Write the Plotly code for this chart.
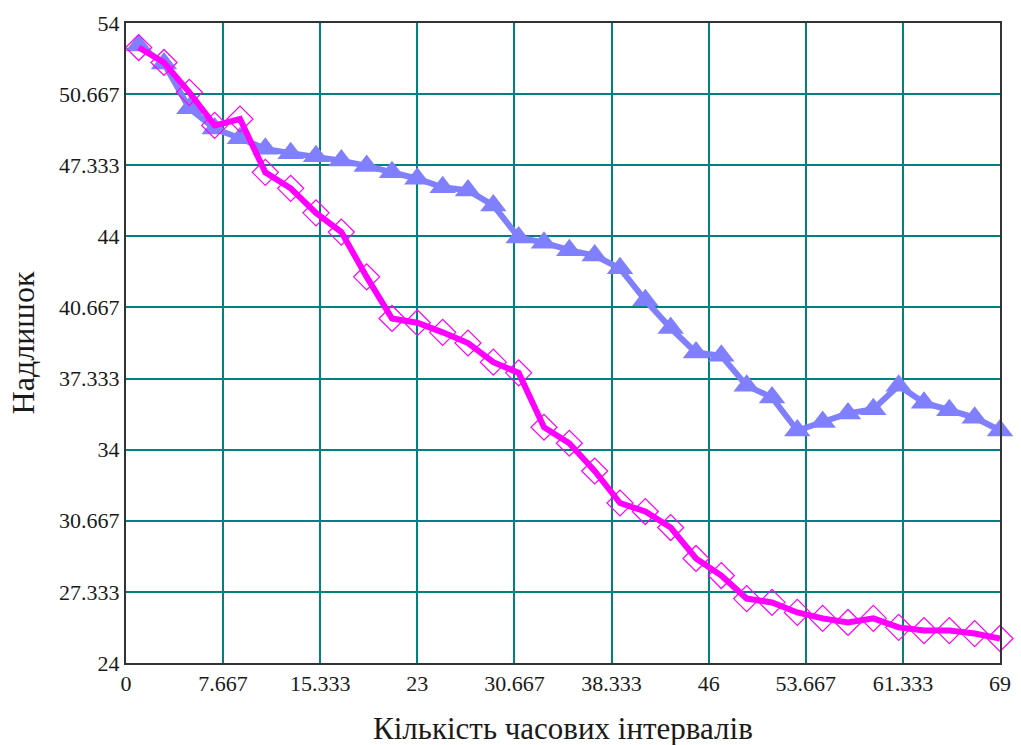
import plotly.graph_objects as go

x_vals = list(range(1, 70, 2))
blue_vals = [52.95, 52.1, 50.0, 49.05, 48.6, 48.1, 47.9, 47.75, 47.55, 47.3,
             47.0, 46.7, 46.3, 46.15, 45.45, 43.95, 43.7, 43.35, 43.1, 42.5,
             41.0, 39.7, 38.55, 38.4, 37.0, 36.45, 34.9, 35.3, 35.7, 35.9,
             37.0, 36.2, 35.85, 35.5, 34.9]
magenta_vals = [52.85, 52.15, 50.75, 49.2, 49.5, 47.0, 46.25, 45.1, 44.2, 42.1,
                40.15, 39.95, 39.5, 39.0, 38.1, 37.6, 35.05, 34.3, 33.0, 31.5,
                31.1, 30.35, 28.9, 28.1, 27.02, 26.84, 26.37, 26.09, 25.9, 26.09,
                25.67, 25.52, 25.52, 25.38, 25.15]

x_ticks = [0, 23/3, 46/3, 23, 92/3, 115/3, 46, 161/3, 184/3, 69]
x_tick_text = ["0", "7.667", "15.333", "23", "30.667", "38.333", "46", "53.667", "61.333", "69"]
y_ticks = [24, 82/3, 92/3, 34, 112/3, 122/3, 44, 142/3, 152/3, 54]
y_tick_text = ["24", "27.333", "30.667", "34", "37.333", "40.667", "44", "47.333", "50.667", "54"]
x_title = "Кількість часових інтервалів"
y_title = "Надлишок"

fig = go.Figure()
fig.add_trace(go.Scatter(
    x=x_vals, y=blue_vals, mode="lines+markers",
    line=dict(color="#8080FF", width=6),
    marker=dict(symbol="triangle-up", size=23, color="#8080FF"),
    showlegend=False, cliponaxis=False))
fig.add_trace(go.Scatter(
    x=x_vals, y=magenta_vals, mode="lines+markers",
    line=dict(color="#FF00FF", width=6),
    marker=dict(symbol="diamond-open", size=20, color="#FF00FF", line=dict(width=1.2, color="#FF00FF")),
    showlegend=False, cliponaxis=False))

font_family = "Liberation Serif, Times New Roman, serif"
fig.update_layout(
    width=1021, height=745,
    margin=dict(l=126, r=21, t=23, b=82, autoexpand=False),
    plot_bgcolor="white", paper_bgcolor="white",
    font=dict(family=font_family, size=22, color="#1a1a1a"),
)
fig.add_annotation(
    text=x_title, xref="paper", yref="paper", x=0.5, y=-0.1016,
    xanchor="center", yanchor="middle", showarrow=False,
    font=dict(size=31, family=font_family, color="#1a1a1a"),
)
fig.update_xaxes(
    range=[0, 69], tickvals=x_ticks, ticktext=x_tick_text,
    showgrid=True, gridcolor="#008080", gridwidth=2,
    showline=True, linecolor="#333333", linewidth=2, mirror=True,
    zeroline=False, ticks="", ticklen=0, automargin=False,
)
fig.update_yaxes(
    range=[24, 54], tickvals=y_ticks, ticktext=y_tick_text,
    showgrid=True, gridcolor="#008080", gridwidth=2,
    showline=True, linecolor="#333333", linewidth=2, mirror=True,
    zeroline=False, ticks="", ticklen=0, automargin=False,
    title=dict(text=y_title, font=dict(size=32, family=font_family), standoff=15),
)

fig.write_html(
    "out.html",
    config={"displayModeBar": False},
    post_script="document.body.style.margin='0';document.body.style.overflow='hidden';",
)
